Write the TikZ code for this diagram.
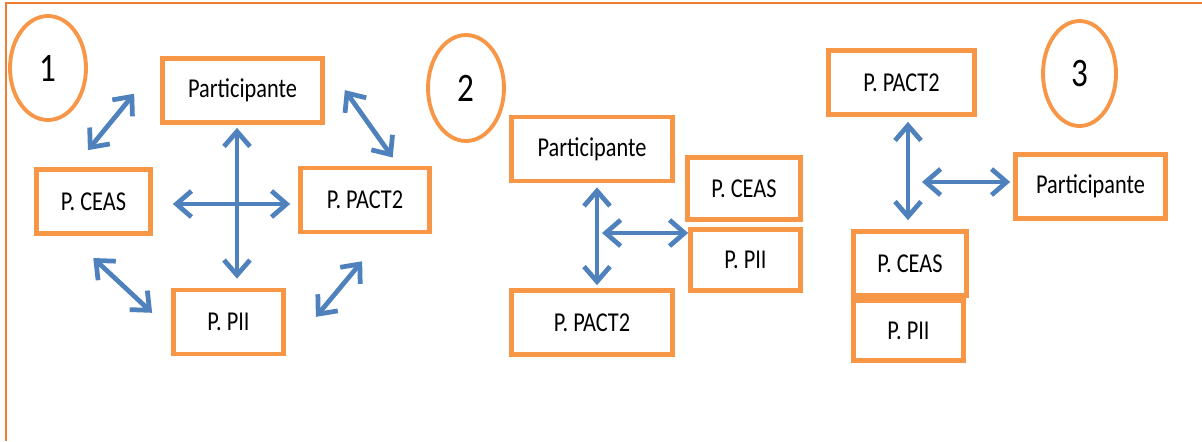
\documentclass[tikz,border=0pt]{standalone}
\usepackage{fontspec}
\setmainfont{Carlito}[FakeStretch=0.82]
\usetikzlibrary{arrows.meta,shapes.geometric}
\definecolor{boxorange}{HTML}{F79646}
\definecolor{frameorange}{HTML}{ED7D31}
\definecolor{arrowblue}{HTML}{4F81BD}
\begin{document}
\begin{tikzpicture}[x=0.02cm, y=-0.02cm, every node/.style={font=\fontsize{15.5}{18}\selectfont},
    >={Straight Barb[length=0.3cm, width=0.52cm]}]
    \tikzstyle{box} = [rectangle, draw=boxorange, line width=2.7pt, text centered, minimum height=1.28cm]
    \tikzstyle{num} = [ellipse, draw=boxorange, line width=2.2pt, inner sep=0pt, font=\fontsize{23}{26}\selectfont]
    \tikzstyle{link} = [<->, draw=arrowblue, line width=2.7pt]
    \useasboundingbox (0,0) rectangle (1202,441);
    % frame, open on the right and at the bottom
    \draw [frameorange, line width=1.3pt] (1202,3) -- (6,3) -- (6,441);

    % case 1
    \node (n1) [num, minimum width=1.52cm, minimum height=2.08cm] at (48,68) {1};
    \node (p1part) [box, minimum width=3.2cm] at (242.5,90.5) {Participante};
    \node (p1ceas) [box, minimum width=2.28cm] at (93.5,201.5) {P. CEAS};
    \node (p1pact) [box, minimum width=2.58cm] at (365,200) {P. PACT2};
    \node (p1pii) [box, minimum width=2.2cm] at (228.5,322) {P. PII};
    \coordinate (c1) at (237,204);

    \draw [link, shorten <=0.06cm, shorten >=0.18cm] (c1 |- p1part.south) -- (c1 |- p1pii.north);
    \draw [link, shorten <=0.4cm, shorten >=0.16cm] (p1ceas.east |- c1) -- (p1pact.west |- c1);
    \draw [link, shorten <=0.44cm, shorten >=0.82cm] ([xshift=-0.39cm]p1ceas.north) -- ([yshift=0.57cm]p1part.west);
    \draw [link, shorten <=0.69cm, shorten >=0.2cm] ([yshift=0.57cm]p1part.east) -- ([xshift=0.67cm]p1pact.north);
    \draw [link, shorten <=0.65cm, shorten >=0.52cm] ([xshift=-0.48cm]p1ceas.south) -- ([yshift=-0.17cm]p1pii.west);
    \draw [link, shorten <=0.94cm, shorten >=0.7cm] ([yshift=-0.62cm]p1pii.east) -- ([xshift=0.39cm]p1pact.south);

    % case 2
    \node (n2) [num, minimum width=1.52cm, minimum height=2.12cm] at (466,88) {2};
    \node (p2part) [box, minimum width=3.22cm] at (592,149) {Participante};
    \node (p2ceas) [box, minimum width=2.26cm, minimum height=1.24cm] at (744,188.5) {P. CEAS};
    \node (p2pii) [box, minimum width=2.2cm, minimum height=1.22cm] at (745.5,260) {P. PII};
    \node (p2pact) [box, minimum width=3.22cm] at (592,322.5) {P. PACT2};
    \coordinate (c2) at (597,233);

    \draw [link, shorten <=0.08cm, shorten >=0.06cm] (c2 |- p2part.south) -- (c2 |- p2pact.north);
    \draw [link, shorten <=0.1cm] (c2) -- (c2 -| p2pii.west);

    % case 3
    \node (n3) [num, minimum width=1.46cm, minimum height=2.1cm] at (1079.5,73.5) {3};
    \node (p3pact) [box, minimum width=2.92cm] at (901.5,82.5) {P. PACT2};
    \node (p3part) [box, minimum width=3.0cm] at (1090.5,186.5) {Participante};
    \node (p3ceas) [box, minimum width=2.26cm] at (910,263.5) {P. CEAS};
    \node (p3pii) [box, minimum width=2.2cm, minimum height=1.2cm] at (908.5,330.5) {P. PII};
    \coordinate (c3) at (908,182);

    \draw [link, shorten <=0.1cm, shorten >=0.18cm] (c3 |- p3pact.south) -- (c3 |- p3ceas.north);
    \draw [link, shorten <=0.28cm, shorten >=0.06cm] (c3) -- (c3 -| p3part.west);

    \end{tikzpicture}
\end{document}
